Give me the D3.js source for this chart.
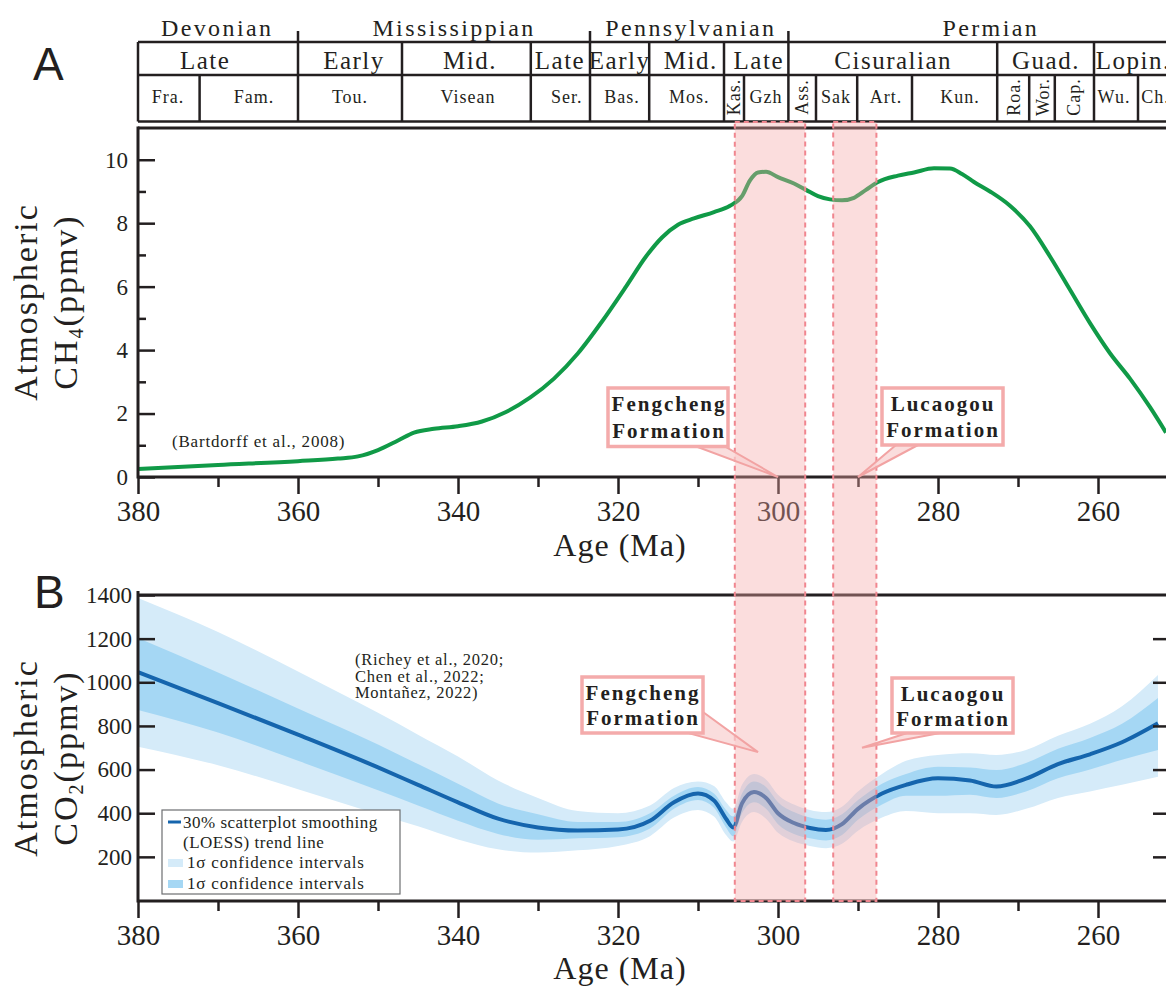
<!DOCTYPE html>
<html>
<head>
<meta charset="utf-8">
<script src="https://cdn.jsdelivr.net/npm/d3@7"></script>
<style>
body { margin: 0; background: #fff; }
svg { display: block; }
text { font-family: "Liberation Serif", "Times New Roman", serif; fill: #231f20; }
</style>
</head>
<body>
<div id="chart"></div>
<script>
// ---- data (ages in Ma) ----
var ch4Age = [380, 370, 360, 355, 352.5, 350, 347.5, 345.5, 343, 340, 337, 334, 331, 328, 325, 322, 319, 316.5, 314.5, 312.5, 310.5, 308, 306, 304.5, 303.5, 302.5, 301.5, 300, 298, 296.5, 295, 293.5, 292, 290.5, 289, 287.5, 285, 283, 280.5, 278.5, 277, 275.5, 273.5, 271, 268.5, 266, 263.5, 261, 258.5, 256, 253.5, 251.5];
var ch4Value = [0.25, 0.38, 0.5, 0.58, 0.65, 0.85, 1.15, 1.4, 1.52, 1.6, 1.75, 2.05, 2.5, 3.1, 3.9, 4.9, 6.0, 6.95, 7.55, 7.95, 8.15, 8.35, 8.55, 8.85, 9.35, 9.6, 9.62, 9.45, 9.25, 9.05, 8.85, 8.75, 8.72, 8.8, 9.05, 9.3, 9.5, 9.6, 9.73, 9.72, 9.55, 9.3, 9.0, 8.55, 7.9, 6.95, 5.9, 4.85, 3.9, 3.1, 2.2, 1.4];

var co2Age = [380, 370, 360, 350, 345, 340, 335, 330, 325, 320, 316, 313, 310, 308, 306.5, 305.6, 304.5, 303, 301.5, 300, 298, 296, 294, 292, 290, 287, 284, 280, 276, 272.7, 269, 265, 261, 257, 252.5];
var co2Mean = [1047, 905, 760, 610, 530, 450, 375, 335, 321, 325, 365, 450, 490, 458, 375, 335, 445, 497, 470, 400, 355, 332, 323, 350, 420, 490, 530, 560, 550, 522, 558, 625, 670, 725, 812];
var co2InnerHi = [1203, 1045, 880, 715, 625, 535, 445, 395, 360, 360, 400, 480, 520, 490, 415, 385, 490, 545, 520, 450, 405, 380, 370, 395, 460, 535, 580, 613, 610, 598, 630, 695, 745, 810, 928];
var co2InnerLo = [873, 770, 640, 505, 435, 365, 305, 278, 285, 290, 330, 420, 460, 425, 335, 295, 400, 450, 420, 350, 305, 285, 275, 300, 370, 440, 480, 480, 485, 470, 500, 560, 600, 645, 690];
var co2OuterHi = [1386, 1230, 1050, 860, 760, 660, 550, 470, 410, 400, 435, 515, 545, 525, 450, 420, 530, 580, 555, 485, 440, 415, 405, 430, 500, 580, 640, 667, 675, 667, 690, 755, 810, 890, 1033];
var co2OuterLo = [705, 620, 510, 395, 340, 280, 235, 220, 230, 250, 295, 380, 415, 385, 300, 270, 360, 405, 375, 310, 270, 250, 240, 260, 320, 380, 410, 400, 400, 392, 420, 470, 500, 530, 567];

var majorAges = [380, 360, 340, 320, 300, 280, 260];
var minorAges = [370, 350, 330, 310, 290, 270];
var ch4Ticks = [0, 2, 4, 6, 8, 10];
var ch4MinorTicks = [1, 3, 5, 7, 9];
var co2Ticks = [200, 400, 600, 800, 1000, 1200, 1400];

// formation intervals (Ma)
var bandStart = [305.4, 293.1];
var bandEnd = [296.6, 287.7];

// time scale header
var periodNames = ["Devonian", "Mississippian", "Pennsylvanian", "Permian"];
var periodCenters = [370.1, 340.5, 310.9, 273.4];
var periodBounds = [360.0, 323.5, 298.7];
var seriesNames = ["Late", "Early", "Mid.", "Late", "Early", "Mid.", "Late", "Cisuralian", "Guad.", "Lopin."];
var seriesCenters = [371.6, 353, 338.5, 327.25, 319.8, 310.9, 302.4, 285.6, 266.5, 255.6];
var seriesBounds = [360.0, 347.0, 330.9, 323.5, 316.1, 306.75, 298.7, 272.6, 260.5];
var stageNames = ["Fra.", "Fam.", "Tou.", "Visean", "Ser.", "Bas.", "Mos.", "Kas.", "Gzh", "Ass.", "Sak", "Art.", "Kun.", "Roa.", "Wor.", "Cap.", "Wu.", "Ch."];
var stageCenters = [376.25, 365.5, 353.5, 338.75, 326.4, 319.5, 311.1, 305.5, 301.5, 297, 292.75, 286.5, 277.25, 270.5, 266.9, 263, 258, 254.6];
var stageBounds = [372.3, 304.25, 295.25, 290.1, 283.25, 268.6, 265.4, 255.0];
var verticalStages = ["Kas.", "Ass.", "Roa.", "Wor.", "Cap."];

var width = 1166, height = 987;
var ink = "#231f20";
var serif = "'Liberation Serif', 'Times New Roman', serif";

var svg = d3.select("#chart").append("svg")
    .attr("width", width)
    .attr("height", height);

svg.append("rect").attr("width", width).attr("height", height).attr("fill", "#fff");

var x = d3.scaleLinear().domain([380, 251.5]).range([138, 1166]);
var yA = d3.scaleLinear().domain([0, 11]).range([477, 128]);
var yB = d3.scaleLinear().domain([0, 1400]).range([900.5, 595]);

// ---- header ----
var head = svg.append("g");
var hLeft = x(380), hRight = 1166;
[42, 75, 121.5].forEach(function(yy) {
    head.append("line").attr("x1", hLeft).attr("x2", hRight).attr("y1", yy).attr("y2", yy)
        .attr("stroke", ink).attr("stroke-width", 2.5);
});
head.append("line").attr("x1", hLeft).attr("x2", hLeft).attr("y1", 42).attr("y2", 121.5)
    .attr("stroke", ink).attr("stroke-width", 2.5);
periodBounds.forEach(function(a) {
    head.append("line").attr("x1", x(a)).attr("x2", x(a)).attr("y1", 31).attr("y2", 42)
        .attr("stroke", ink).attr("stroke-width", 2.5);
});
seriesBounds.forEach(function(a) {
    head.append("line").attr("x1", x(a)).attr("x2", x(a)).attr("y1", 42).attr("y2", 121.5)
        .attr("stroke", ink).attr("stroke-width", 2.5);
});
stageBounds.forEach(function(a) {
    head.append("line").attr("x1", x(a)).attr("x2", x(a)).attr("y1", 75).attr("y2", 121.5)
        .attr("stroke", ink).attr("stroke-width", 2.5);
});
periodNames.forEach(function(n, i) {
    head.append("text").attr("x", x(periodCenters[i])).attr("y", 36)
        .attr("text-anchor", "middle").style("font-size", "24px").style("letter-spacing", "2.4px")
        .text(n);
});
seriesNames.forEach(function(n, i) {
    head.append("text").attr("x", x(seriesCenters[i])).attr("y", 69)
        .attr("text-anchor", "middle").style("font-size", "25px").style("letter-spacing", "1.5px")
        .text(n);
});
stageNames.forEach(function(n, i) {
    var t = head.append("text").style("font-size", "18px").style("letter-spacing", "1px").text(n);
    if (verticalStages.indexOf(n) >= 0) {
        t.attr("transform", "translate(" + x(stageCenters[i]) + ",97) rotate(-90)")
            .attr("text-anchor", "middle").attr("dy", "0.35em");
    } else if (n === "Ch.") {
        t.attr("x", x(stageCenters[i])).attr("y", 103);
    } else {
        t.attr("x", x(stageCenters[i])).attr("y", 103).attr("text-anchor", "middle");
    }
});

// ---- panel A : CH4 ----
var gA = svg.append("g");
svg.append("clipPath").attr("id", "clipA").append("rect")
    .attr("x", 138).attr("y", 128).attr("width", 1166 - 138).attr("height", 477 - 128);

var ch4Line = d3.line()
    .x(function(d) { return x(d[0]); })
    .y(function(d) { return yA(d[1]); })
    .curve(d3.curveMonotoneX);

gA.append("path")
    .datum(ch4Age.map(function(a, i) { return [a, ch4Value[i]]; }))
    .attr("clip-path", "url(#clipA)")
    .attr("d", ch4Line)
    .attr("fill", "none")
    .attr("stroke", "#109a47")
    .attr("stroke-width", 4);

function styleAxis(ax, size) {
    ax.attr("font-family", serif);
    ax.select(".domain").remove();
    ax.selectAll("line").attr("stroke", ink).attr("stroke-width", 2.5);
    ax.selectAll("text").style("font-size", size).style("font-family", serif).attr("fill", ink);
}

function bottomAxis(g, y0) {
    var ax = g.append("g").attr("transform", "translate(0," + y0 + ")")
        .call(d3.axisBottom(x).tickValues(majorAges).tickSize(17).tickPadding(6).tickFormat(d3.format("d")));
    styleAxis(ax, "29px");
    var mn = g.append("g").attr("transform", "translate(0," + y0 + ")")
        .call(d3.axisBottom(x).tickValues(minorAges).tickSize(10).tickFormat(""));
    styleAxis(mn, "29px");
    g.append("line").attr("x1", 138).attr("x2", 1166).attr("y1", y0).attr("y2", y0)
        .attr("stroke", ink).attr("stroke-width", 3);
}

var axA = gA.append("g").attr("transform", "translate(138,0)")
    .call(d3.axisLeft(yA).tickValues(ch4Ticks).tickSizeInner(-17).tickSizeOuter(0).tickPadding(10).tickFormat(d3.format("d")));
styleAxis(axA, "23px");
var axAm = gA.append("g").attr("transform", "translate(138,0)")
    .call(d3.axisLeft(yA).tickValues(ch4MinorTicks).tickSizeInner(-8).tickSizeOuter(0).tickFormat(""));
styleAxis(axAm, "23px");

gA.append("line").attr("x1", 138).attr("x2", 1166).attr("y1", 128).attr("y2", 128)
    .attr("stroke", ink).attr("stroke-width", 3);
gA.append("line").attr("x1", 138).attr("x2", 138).attr("y1", 126.5).attr("y2", 478.5)
    .attr("stroke", ink).attr("stroke-width", 3);
bottomAxis(gA, 477);

gA.append("text").attr("x", 172).attr("y", 447)
    .style("font-size", "17px").style("letter-spacing", "0.8px").attr("fill", "#333")
    .text("(Bartdorff et al., 2008)");

// ---- panel B : CO2 ----
var gB = svg.append("g");
svg.append("clipPath").attr("id", "clipB").append("rect")
    .attr("x", 138).attr("y", 595).attr("width", 1166 - 138).attr("height", 901 - 595);

var co2Rows = co2Age.map(function(a, i) {
    return { age: a, mean: co2Mean[i], ilo: co2InnerLo[i], ihi: co2InnerHi[i], olo: co2OuterLo[i], ohi: co2OuterHi[i] };
});

var outerArea = d3.area()
    .x(function(d) { return x(d.age); })
    .y0(function(d) { return yB(d.olo); })
    .y1(function(d) { return yB(d.ohi); })
    .curve(d3.curveMonotoneX);
var innerArea = d3.area()
    .x(function(d) { return x(d.age); })
    .y0(function(d) { return yB(d.ilo); })
    .y1(function(d) { return yB(d.ihi); })
    .curve(d3.curveMonotoneX);
var meanLine = d3.line()
    .x(function(d) { return x(d.age); })
    .y(function(d) { return yB(d.mean); })
    .curve(d3.curveMonotoneX);

var plotB = gB.append("g").attr("clip-path", "url(#clipB)");
plotB.append("path").datum(co2Rows).attr("d", outerArea).attr("fill", "#d5ebf9");
plotB.append("path").datum(co2Rows).attr("d", innerArea).attr("fill", "#a5d7f4");
plotB.append("path").datum(co2Rows).attr("d", meanLine)
    .attr("fill", "none").attr("stroke", "#1565ad").attr("stroke-width", 4);

var axB = gB.append("g").attr("transform", "translate(138,0)")
    .call(d3.axisLeft(yB).tickValues(co2Ticks).tickSizeInner(-17).tickSizeOuter(0).tickPadding(6).tickFormat(d3.format("d")));
styleAxis(axB, "23px");

var axBr = gB.append("g").attr("transform", "translate(1170,0)")
    .call(d3.axisRight(yB).tickValues(co2Ticks.slice(0, 6)).tickSizeInner(-17).tickSizeOuter(0).tickFormat(""));
styleAxis(axBr, "23px");

gB.append("line").attr("x1", 138).attr("x2", 1166).attr("y1", 595).attr("y2", 595)
    .attr("stroke", ink).attr("stroke-width", 3);
gB.append("line").attr("x1", 138).attr("x2", 138).attr("y1", 591).attr("y2", 902.5)
    .attr("stroke", ink).attr("stroke-width", 3);
bottomAxis(gB, 901);

var refs = ["(Richey et al., 2020;", "Chen et al., 2022;", "Montañez, 2022)"];
refs.forEach(function(r, i) {
    gB.append("text").attr("x", 355).attr("y", 665 + i * 16.5)
        .style("font-size", "16.5px").style("letter-spacing", "0.7px").attr("fill", "#333")
        .text(r);
});

// ---- formation bands (over both panels) ----
bandStart.forEach(function(a, i) {
    svg.append("rect")
        .attr("x", x(a)).attr("y", 122)
        .attr("width", x(bandEnd[i]) - x(a)).attr("height", 901 - 122)
        .attr("fill", "#f4a6a6").attr("fill-opacity", 0.38)
        .attr("stroke", "#f0868f").attr("stroke-width", 2).attr("stroke-dasharray", "5,4");
});

// ---- legend ----
var lg = svg.append("g");
lg.append("rect").attr("x", 162).attr("y", 810).attr("width", 238).attr("height", 84)
    .attr("fill", "#fff").attr("stroke", "#6d6e71").attr("stroke-width", 1.2);
lg.append("line").attr("x1", 168).attr("x2", 181).attr("y1", 822).attr("y2", 822)
    .attr("stroke", "#1565ad").attr("stroke-width", 3);
lg.append("text").attr("x", 183).attr("y", 828).style("font-size", "17px").style("letter-spacing", "0.5px")
    .text("30% scatterplot smoothing");
lg.append("text").attr("x", 183).attr("y", 848).style("font-size", "17px").style("letter-spacing", "0.5px")
    .text("(LOESS) trend line");
lg.append("rect").attr("x", 168).attr("y", 859).attr("width", 15).attr("height", 8).attr("fill", "#d5ebf9");
lg.append("text").attr("x", 187).attr("y", 868).style("font-size", "17px").style("letter-spacing", "0.8px")
    .text("1σ  confidence intervals");
lg.append("rect").attr("x", 168).attr("y", 880).attr("width", 15).attr("height", 8).attr("fill", "#a5d7f4");
lg.append("text").attr("x", 187).attr("y", 889).style("font-size", "17px").style("letter-spacing", "0.8px")
    .text("1σ  confidence intervals");

// ---- callouts ----
function callout(box, wedge, lines, cx, baselines) {
    var g = svg.append("g");
    g.append("polygon").attr("points", wedge.map(function(p) { return p.join(","); }).join(" "))
        .attr("fill", "#f8cfcf").attr("fill-opacity", 0.7)
        .attr("stroke", "#f2a3a3").attr("stroke-width", 2);
    g.append("rect").attr("x", box[0]).attr("y", box[1])
        .attr("width", box[2] - box[0]).attr("height", box[3] - box[1])
        .attr("fill", "#fff").attr("stroke", "#f4abab").attr("stroke-width", 3.5);
    lines.forEach(function(t, i) {
        g.append("text").attr("x", cx).attr("y", baselines[i]).attr("text-anchor", "middle")
            .style("font-size", "21px").style("font-weight", "bold").style("letter-spacing", "2px")
            .text(t);
    });
}
callout([608, 388, 728, 446.5], [[695, 446], [724, 446], [x(300), yA(0)]],
    ["Fengcheng", "Formation"], 669, [411, 438]);
callout([882, 388, 1003, 445], [[896, 445], [918, 445], [x(290), yA(0)]],
    ["Lucaogou", "Formation"], 943, [411, 437]);
callout([582, 677, 703, 733], [[703, 712], [x(302.5), yB(680)], [688, 733]],
    ["Fengcheng", "Formation"], 643, [700, 725]);
callout([892, 678, 1013, 733], [[907, 733], [x(289.5), yB(700)], [940, 733]],
    ["Lucaogou", "Formation"], 953, [701, 726]);

// ---- axis titles & panel letters ----
function yTitle(cy, sym, sub) {
    svg.append("text").attr("transform", "translate(37," + cy + ") rotate(-90)")
        .attr("text-anchor", "middle").style("font-size", "34px").style("letter-spacing", "2px")
        .text("Atmospheric");
    var t = svg.append("text").attr("transform", "translate(77," + cy + ") rotate(-90)")
        .attr("text-anchor", "middle").style("font-size", "34px").style("letter-spacing", "2px");
    t.append("tspan").text(sym);
    t.append("tspan").attr("dy", 6).style("font-size", "20px").text(sub);
    t.append("tspan").attr("dy", -6).text("(ppmv)");
}
yTitle(302, "CH", "4");
yTitle(758, "CO", "2");

svg.append("text").attr("x", 620).attr("y", 556).attr("text-anchor", "middle")
    .style("font-size", "32px").style("letter-spacing", "1px").text("Age (Ma)");
svg.append("text").attr("x", 620).attr("y", 979).attr("text-anchor", "middle")
    .style("font-size", "32px").style("letter-spacing", "1px").text("Age (Ma)");

svg.append("text").attr("x", 33).attr("y", 80)
    .style("font-family", "'Liberation Sans', Arial, sans-serif").style("font-size", "46px").text("A");
svg.append("text").attr("x", 34).attr("y", 608)
    .style("font-family", "'Liberation Sans', Arial, sans-serif").style("font-size", "46px").text("B");
</script>
</body>
</html>
